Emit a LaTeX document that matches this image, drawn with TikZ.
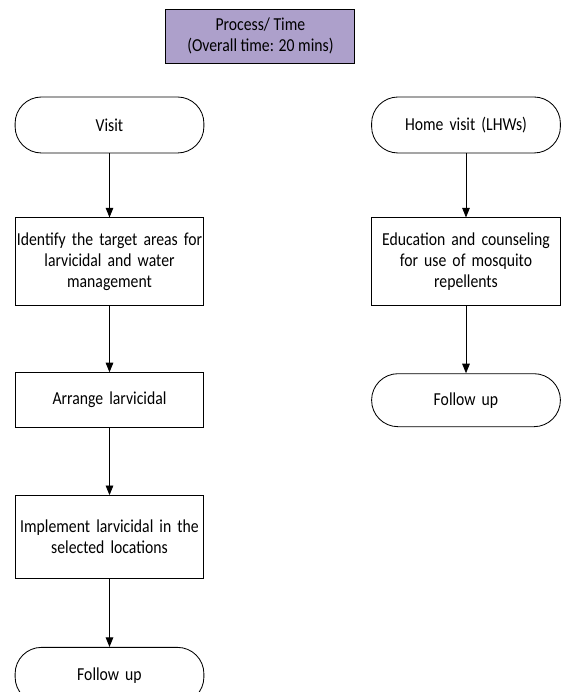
\documentclass[tikz,border=0pt]{standalone}
\usepackage{fontspec}
\setmainfont{Carlito}[FakeStretch=0.86]
\usetikzlibrary{arrows.meta, positioning}
\definecolor{ptitle}{HTML}{ADA0CB}
\hyphenpenalty=10000
\exhyphenpenalty=10000
\tikzset{
  stepbox/.style={draw=black, fill=white, line width=0.6pt, text width=4.8cm,
                  align=center, inner ysep=0pt, inner xsep=-0.04cm,
                  font=\fontsize{13}{15}\selectfont},
  termbox/.style={draw=black, fill=white, line width=0.6pt, rounded corners=0.66cm,
                  text width=4.8cm, align=center, minimum height=1.4cm,
                  inner ysep=0pt, inner xsep=-0.04cm, font=\fontsize{13}{15}\selectfont},
  titlebox/.style={draw=black, fill=ptitle, line width=0.6pt, minimum width=4.725cm,
                   minimum height=1.35cm, align=center, inner sep=0pt,
                   font=\fontsize{13}{15}\selectfont},
  arr/.style={-{Triangle[length=2.4mm,width=1.9mm]}, line width=0.6pt, black},
}
\begin{document}
\begin{tikzpicture}[every node/.style={minimum width=4.72cm}]
  \useasboundingbox (0,0) rectangle (14.075,-17.3);
  \begin{scope}
  \clip (0,0) rectangle (14.075,-17.3);
  % header
  \node[titlebox] (hdr) at (6.51,-0.9) {Process/ Time\\(Overall time: 20 mins)};
  % left column
  \node[termbox] (visit) at (2.7375,-3.125) {Visit};
  \node[stepbox, minimum height=2.2cm, below=1.6cm of visit] (ident)
    {Identify the target areas for\\larvicidal and water\\management};
  \node[stepbox, minimum height=1.375cm, below=1.65cm of ident] (arrange) {Arrange larvicidal};
  \node[stepbox, minimum height=2.075cm, below=1.675cm of arrange] (impl)
    {Implement larvicidal in the\\selected locations};
  \node[termbox, below=1.7cm of impl] (fupl) {Follow up};
  % right column
  \node[termbox] (home) at (11.65,-3.125) {Home visit (LHWs)};
  \node[stepbox, minimum height=2.2cm, below=1.6cm of home] (edu)
    {Education and counseling\\for use of mosquito\\repellents};
  \node[termbox, minimum height=1.325cm, below=1.675cm of edu] (fupr) {Follow up};
  % arrows
  \draw[arr] (visit) -- (ident);
  \draw[arr] (ident) -- (arrange);
  \draw[arr] (arrange) -- (impl);
  \draw[arr] (impl) -- (fupl);
  \draw[arr] (home) -- (edu);
  \draw[arr] (edu) -- (fupr);
  \end{scope}
\end{tikzpicture}
\end{document}
